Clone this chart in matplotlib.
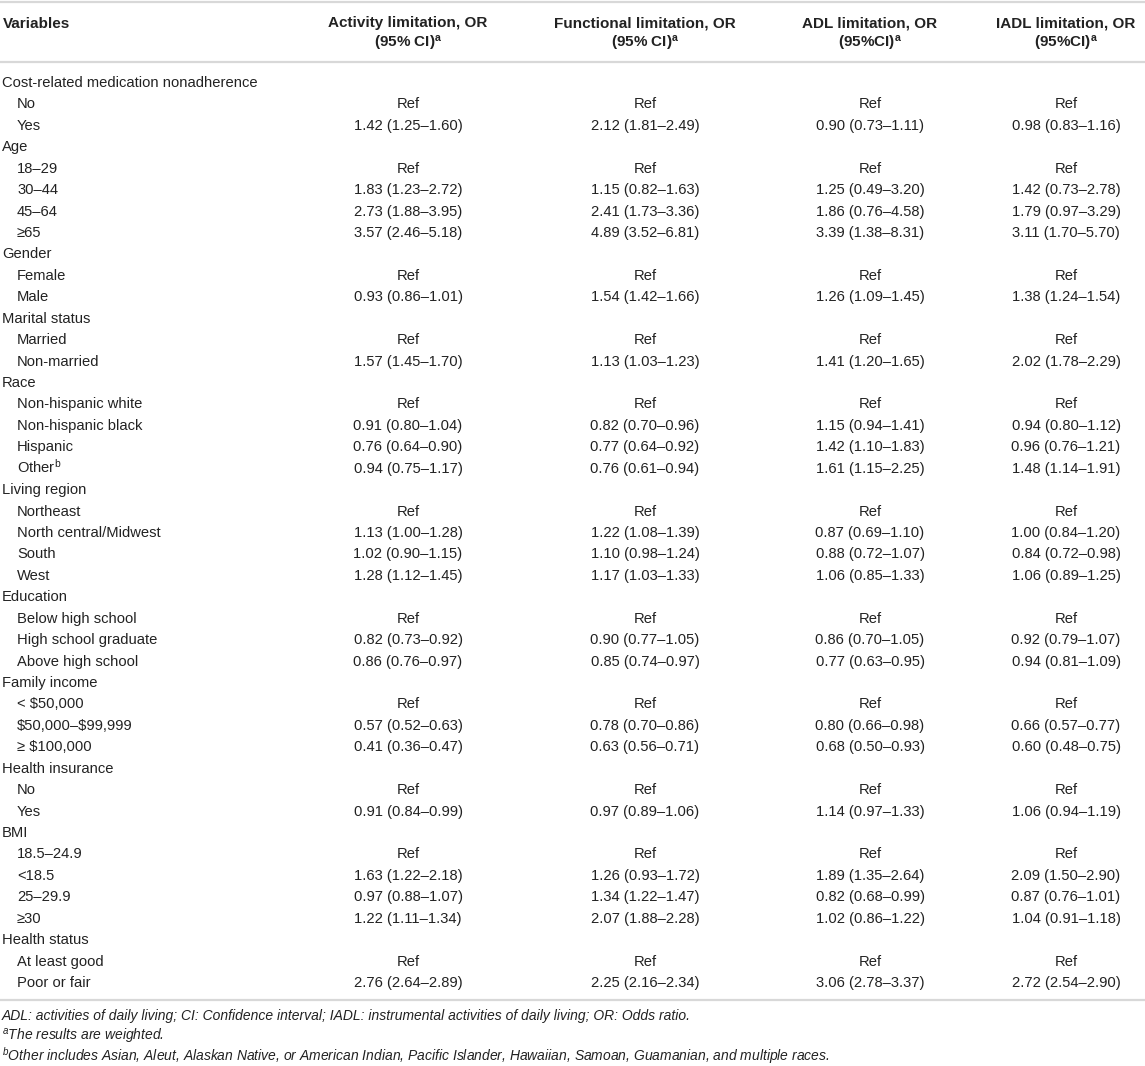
import numpy as np
import matplotlib
matplotlib.use("Agg")
import matplotlib.pyplot as plt

plt.rcParams['font.family'] = ['Liberation Sans', 'DejaVu Sans']
plt.rcParams['mathtext.default'] = 'regular'

# table content
col_titles = ["Activity limitation, OR", "Functional limitation, OR",
              "ADL limitation, OR", "IADL limitation, OR"]
col_sub = ["(95% CI)", "(95% CI)", "(95%CI)", "(95%CI)"]

groups = [
  ("Cost-related medication nonadherence", ["No", "Yes"]),
  ("Age", ["18\u201329", "30\u201344", "45\u201364", "\u226565"]),
  ("Gender", ["Female", "Male"]),
  ("Marital status", ["Married", "Non-married"]),
  ("Race", ["Non-hispanic white", "Non-hispanic black", "Hispanic", "Other$^{b}$"]),
  ("Living region", ["Northeast", "North central/Midwest", "South", "West"]),
  ("Education", ["Below high school", "High school graduate", "Above high school"]),
  ("Family income", ["< \\$50,000", "\\$50,000\u2013\\$99,999", "\u2265 \\$100,000"]),
  ("Health insurance", ["No", "Yes"]),
  ("BMI", ["18.5\u201324.9", "<18.5", "25\u201329.9", "\u226530"]),
  ("Health status", ["At least good", "Poor or fair"]),
]

activity = ["Ref", "1.42 (1.25–1.60)",
  "Ref", "1.83 (1.23–2.72)", "2.73 (1.88–3.95)", "3.57 (2.46–5.18)",
  "Ref", "0.93 (0.86–1.01)",
  "Ref", "1.57 (1.45–1.70)",
  "Ref", "0.91 (0.80–1.04)", "0.76 (0.64–0.90)", "0.94 (0.75–1.17)",
  "Ref", "1.13 (1.00–1.28)", "1.02 (0.90–1.15)", "1.28 (1.12–1.45)",
  "Ref", "0.82 (0.73–0.92)", "0.86 (0.76–0.97)",
  "Ref", "0.57 (0.52–0.63)", "0.41 (0.36–0.47)",
  "Ref", "0.91 (0.84–0.99)",
  "Ref", "1.63 (1.22–2.18)", "0.97 (0.88–1.07)", "1.22 (1.11–1.34)",
  "Ref", "2.76 (2.64–2.89)"]

functional = ["Ref", "2.12 (1.81–2.49)",
  "Ref", "1.15 (0.82–1.63)", "2.41 (1.73–3.36)", "4.89 (3.52–6.81)",
  "Ref", "1.54 (1.42–1.66)",
  "Ref", "1.13 (1.03–1.23)",
  "Ref", "0.82 (0.70–0.96)", "0.77 (0.64–0.92)", "0.76 (0.61–0.94)",
  "Ref", "1.22 (1.08–1.39)", "1.10 (0.98–1.24)", "1.17 (1.03–1.33)",
  "Ref", "0.90 (0.77–1.05)", "0.85 (0.74–0.97)",
  "Ref", "0.78 (0.70–0.86)", "0.63 (0.56–0.71)",
  "Ref", "0.97 (0.89–1.06)",
  "Ref", "1.26 (0.93–1.72)", "1.34 (1.22–1.47)", "2.07 (1.88–2.28)",
  "Ref", "2.25 (2.16–2.34)"]

adl = ["Ref", "0.90 (0.73–1.11)",
  "Ref", "1.25 (0.49–3.20)", "1.86 (0.76–4.58)", "3.39 (1.38–8.31)",
  "Ref", "1.26 (1.09–1.45)",
  "Ref", "1.41 (1.20–1.65)",
  "Ref", "1.15 (0.94–1.41)", "1.42 (1.10–1.83)", "1.61 (1.15–2.25)",
  "Ref", "0.87 (0.69–1.10)", "0.88 (0.72–1.07)", "1.06 (0.85–1.33)",
  "Ref", "0.86 (0.70–1.05)", "0.77 (0.63–0.95)",
  "Ref", "0.80 (0.66–0.98)", "0.68 (0.50–0.93)",
  "Ref", "1.14 (0.97–1.33)",
  "Ref", "1.89 (1.35–2.64)", "0.82 (0.68–0.99)", "1.02 (0.86–1.22)",
  "Ref", "3.06 (2.78–3.37)"]

iadl = ["Ref", "0.98 (0.83–1.16)",
  "Ref", "1.42 (0.73–2.78)", "1.79 (0.97–3.29)", "3.11 (1.70–5.70)",
  "Ref", "1.38 (1.24–1.54)",
  "Ref", "2.02 (1.78–2.29)",
  "Ref", "0.94 (0.80–1.12)", "0.96 (0.76–1.21)", "1.48 (1.14–1.91)",
  "Ref", "1.00 (0.84–1.20)", "0.84 (0.72–0.98)", "1.06 (0.89–1.25)",
  "Ref", "0.92 (0.79–1.07)", "0.94 (0.81–1.09)",
  "Ref", "0.66 (0.57–0.77)", "0.60 (0.48–0.75)",
  "Ref", "1.06 (0.94–1.19)",
  "Ref", "2.09 (1.50–2.90)", "0.87 (0.76–1.01)", "1.04 (0.91–1.18)",
  "Ref", "2.72 (2.54–2.90)"]

footnotes = [
  "ADL: activities of daily living; CI: Confidence interval; IADL: instrumental activities of daily living; OR: Odds ratio.",
  "$^{a}$The results are weighted.",
  "$^{b}$Other includes Asian, Aleut, Alaskan Native, or American Indian, Pacific Islander, Hawaiian, Samoan, Guamanian, and multiple races.",
]

# layout (pixels)
W, H = 1145, 1066
col_x = [408, 645, 870, 1066]
row0, row_h = 82, 21.43
txt_color = "#222222"
line_color = "#d8d8d8"

fig = plt.figure(figsize=(W / 100, H / 100), dpi=100)
ax = fig.add_axes([0, 0, 1, 1])
ax.set_xlim(0, W)
ax.set_ylim(H, 0)
ax.axis("off")

# rules
for yl in [1.5, 61.5, 1000]:
  ax.plot([0, W], [yl, yl], color=line_color, lw=1.6, solid_capstyle="butt")

# header
ax.text(3, 27.5, "Variables", fontsize=11, fontweight="bold", color=txt_color, va="baseline")
for x, t, s in zip(col_x, col_titles, col_sub):
  ax.text(x, 27.5, t, fontsize=11, fontweight="bold", color=txt_color, ha="center", va="baseline")
  ax.text(x, 47.5, s + "$^{a}$", fontsize=11, fontweight="bold", color=txt_color, ha="center", va="baseline")

# body
columns = [activity, functional, adl, iadl]
r = 0
k = 0
for name, items in groups:
  y = row0 + r * row_h + 5
  ax.text(2, y, name, fontsize=10.6, color=txt_color, va="baseline")
  r += 1
  for it in items:
    y = row0 + r * row_h + 5
    ax.text(17, y, it, fontsize=10.6, color=txt_color, va="baseline")
    for x, col in zip(col_x, columns):
      ax.text(x, y, col[k], fontsize=10.6, color=txt_color, ha="center", va="baseline")
    r += 1
    k += 1

# footnotes
for i, fn in enumerate(footnotes):
  ax.text(2, 1016 + i * 20.5 + 4, fn, fontsize=10, style="italic", color=txt_color, va="baseline")

fig.savefig("out.png", dpi=100)
